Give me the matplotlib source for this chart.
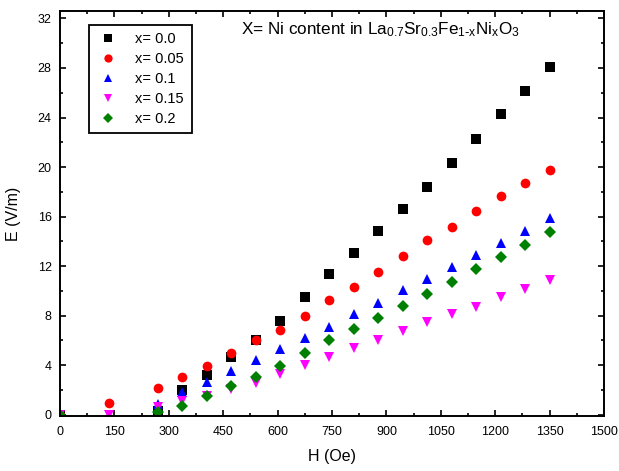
import matplotlib
matplotlib.use('Agg')
import matplotlib.pyplot as plt
from matplotlib.ticker import MultipleLocator

plt.rcParams['font.family'] = ['Liberation Sans', 'DejaVu Sans']
plt.rcParams['mathtext.default'] = 'regular'

nan = float('nan')

H = [0, 135, 270, 337.5, 405, 472.5, 540, 607.5, 675, 742.5, 810, 877.5,
     945, 1012.5, 1080, 1147.5, 1215, 1282.5, 1350]

# points hidden under other markers in the picture are left out (nan)
E_x00 = [0, nan, 0.3, 2.0, 3.2, 4.7, 6.0, 7.6, 9.5, 11.4, 13.1, 14.8,
         16.6, 18.4, 20.3, 22.3, 24.25, 26.15, 28.05]
E_x005 = [0, 0.95, 2.2, 3.05, 3.95, 4.95, 6.0, 6.85, 7.95, 9.25, 10.3, 11.55,
          12.8, 14.1, 15.2, 16.45, 17.7, 18.7, 19.8]
E_x01 = [0, nan, 0.9, 1.85, 2.65, 3.55, 4.4, 5.3, 6.2, 7.1, 8.1, 9.05,
         10.05, 10.95, 11.95, 12.9, 13.9, 14.85, 15.9]
E_x015 = [0, 0, 0.6, 1.15, 1.55, 2.1, 2.6, 3.3, 4.0, 4.65, 5.35, 6.0,
          6.8, 7.45, 8.1, 8.7, 9.5, 10.15, 10.9]
E_x02 = [0, nan, 0.2, 0.7, 1.5, 2.35, 3.05, 3.95, 4.95, 6.0, 6.9, 7.85,
         8.75, 9.75, 10.7, 11.75, 12.7, 13.7, 14.75]

series = [
    (E_x00, 'x= 0.0', 'k', 's', 6.5),
    (E_x005, 'x= 0.05', 'red', 'o', 7),
    (E_x01, 'x= 0.1', 'blue', '^', 7.5),
    (E_x015, 'x= 0.15', 'magenta', 'v', 7.5),
    (E_x02, 'x= 0.2', 'green', 'D', 6),
]

fig = plt.figure(figsize=(6.19, 4.71), dpi=100)
ax = fig.add_axes([0.0969, 0.1168, 0.8789, 0.8598])

for vals, lab, col, mk, ms in series:
    ax.plot(H, vals, linestyle='none', marker=mk, color=col, markersize=ms,
            markeredgewidth=0, label=lab)

ax.set_xlim(0, 1500)
ax.set_ylim(-0.1, 32.6)
ax.xaxis.set_major_locator(MultipleLocator(150))
ax.xaxis.set_minor_locator(MultipleLocator(75))
ax.yaxis.set_major_locator(MultipleLocator(4))
ax.yaxis.set_minor_locator(MultipleLocator(2))
ax.tick_params(which='both', direction='in', top=True, right=True, labelsize=9, width=1.2)
ax.tick_params(which='major', length=4.5)
ax.tick_params(which='minor', length=2.5)
ax.tick_params(axis='x', pad=7)
ax.tick_params(axis='y', pad=6)
for sp in ax.spines.values():
    sp.set_linewidth(1.4)

ax.set_xlabel('H (Oe)', fontsize=11.5, labelpad=8)
ax.set_ylabel('E (V/m)', fontsize=11.5, labelpad=12)

ax.text(0.333, 0.953, r'X= Ni content in La$_{0.7}$Sr$_{0.3}$Fe$_{1\text{-}x}$Ni$_{x}$O$_{3}$',
        transform=ax.transAxes, fontsize=12.3, va='center', ha='left')

leg = ax.legend(loc='upper left', bbox_to_anchor=(0.053, 0.965), fontsize=10.5,
                frameon=True, fancybox=False, edgecolor='k', framealpha=1,
                handletextpad=1.1, labelspacing=0.4, borderpad=0.5, handlelength=1.6,
                markerscale=0.85, borderaxespad=0)
leg.get_frame().set_linewidth(1.3)

fig.savefig('out.png', dpi=100)
